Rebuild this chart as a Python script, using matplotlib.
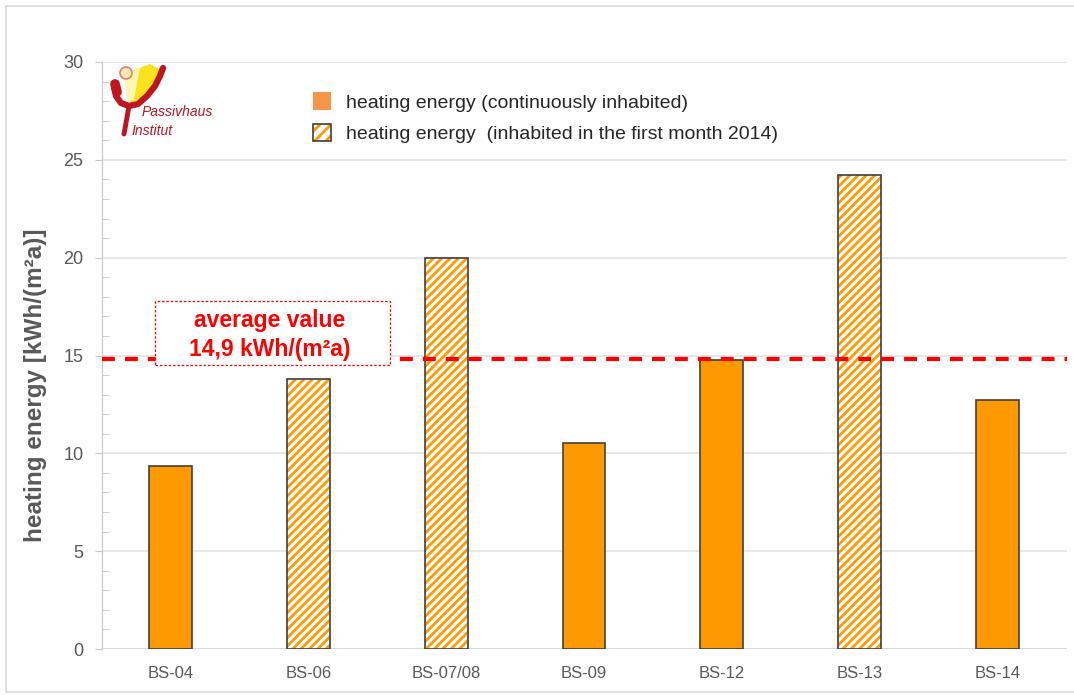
import matplotlib
matplotlib.use("Agg")
from matplotlib import pyplot as plt
from matplotlib.patches import Rectangle, Patch, Circle, Polygon
from matplotlib.legend_handler import HandlerTuple

plt.rcParams['font.family'] = ['Liberation Sans', 'DejaVu Sans']
plt.rcParams['hatch.linewidth'] = 2.0

# data
gebaeude = ["BS-04", "BS-06", "BS-07/08", "BS-09", "BS-12", "BS-13", "BS-14"]
heizenergie = [9.35, 13.8, 20.0, 10.55, 14.75, 24.2, 12.75]
erster_monat = [False, True, True, False, False, True, False]
mittelwert = 14.8
mittelwert_text = "average value\n14,9 kWh/(m²a)"

orange = "#ff9900"
grau_text = "#595959"
rot = "#ff0000"

fig = plt.figure(figsize=(10.74, 6.95), dpi=100)
ax = fig.add_axes([101.5 / 1074, 1 - 649 / 695, 965 / 1074, 587 / 695])

x = list(range(len(gebaeude)))
breite = 0.31
for i, wert in enumerate(heizenergie):
    if erster_monat[i]:
        ax.bar(x[i], wert, breite, color="white", edgecolor=orange, hatch="////", linewidth=0, zorder=3)
        ax.bar(x[i], wert, breite, color="none", edgecolor="#404040", linewidth=1.2, zorder=4)
    else:
        ax.bar(x[i], wert, breite, color=orange, edgecolor="#404040", linewidth=1.2, zorder=3)

# average line + box
ax.axhline(mittelwert, color=rot, linewidth=3, dashes=(3.1, 2.4), zorder=5)
fig.patches.append(Rectangle((155 / 1074, 1 - 365 / 695), 235 / 1074, 64 / 695, transform=fig.transFigure,
                             facecolor="white", edgecolor=rot, linestyle=(0, (2, 1.5)), linewidth=0.9,
                             zorder=6))
fig.text(270 / 1074, 1 - 335 / 695, mittelwert_text, ha="center", va="center", fontsize=16.5,
         fontweight="bold", color=rot, linespacing=1.3, zorder=7)

ax.set_xlim(-0.5, len(gebaeude) - 0.5)
ax.set_ylim(0, 30)
ax.set_yticks(range(0, 31, 5))
ax.set_yticks(range(0, 31, 1), minor=True)
ax.set_xticks(x)
ax.set_xticklabels(gebaeude)
ax.yaxis.grid(True, color="#e3e3e3", linewidth=1.2, zorder=0)
ax.set_axisbelow(True)
for s in ["top", "right", "bottom"]:
    ax.spines[s].set_visible(False)
ax.spines["left"].set_color("#c8c8c8")
ax.tick_params(axis="y", which="major", direction="out", length=5, color="#c8c8c8",
               labelsize=13, labelcolor=grau_text, pad=8)
ax.tick_params(axis="y", which="minor", direction="in", length=5, color="#c8c8c8")
ax.tick_params(axis="x", length=0, labelsize=12, labelcolor=grau_text, pad=12)
ax.axhline(0, color="#d9d9d9", linewidth=1.5, zorder=2)
ax.set_ylabel("heating energy [kWh/(m²a)]", fontsize=17.5, fontweight="bold", color=grau_text)
ax.yaxis.label.set_va("center")
ax.yaxis.set_label_coords((36 - 101.5) / 965, (649 - 385) / 587)

# legend
voll = Patch(facecolor="#f79646", edgecolor="none")
schraffur = Patch(facecolor="white", edgecolor=orange, hatch="///", linewidth=0)
rand = Patch(facecolor="none", edgecolor="#404040", linewidth=1.2)
fig.legend([voll, (schraffur, rand)],
           ["heating energy (continuously inhabited)",
            "heating energy  (inhabited in the first month 2014)"],
           handler_map={tuple: HandlerTuple(ndivide=1)},
           loc="upper left", bbox_to_anchor=(295 / 1074, 1 - 75 / 695),
           frameon=False, fontsize=14, handlelength=0.95, handleheight=1.0,
           handletextpad=0.75, labelspacing=0.62, labelcolor="#262626")

# logo Passivhaus Institut (vereinfacht)
lg = fig.add_axes([106 / 1074, 1 - 146 / 695, 116 / 1074, 86 / 695])
lg.set_xlim(106, 222)
lg.set_ylim(146, 60)
lg.axis("off")
lg.add_patch(Polygon([(124, 74), (150, 64), (161, 70), (152, 92), (131, 104)], closed=True,
                     facecolor="#f8e21a", edgecolor="none"))
lg.add_patch(Polygon([(124, 76), (140, 68), (134, 100), (128, 102)], closed=True,
                     facecolor="#fdf6b0", edgecolor="none"))
lg.add_patch(Circle((126, 73), 6, facecolor="#fde9b8", edgecolor="#e8826c", linewidth=1.2))
lg.plot([114, 116, 121, 129, 138, 147, 155, 160, 163],
        [86, 96, 103, 106, 104, 96, 86, 76, 68], color="#c0141e", linewidth=4.5,
        solid_capstyle="round")
lg.plot([115, 117], [84, 92], color="#c0141e", linewidth=7, solid_capstyle="round")
lg.plot([129, 124], [106, 134], color="#c0141e", linewidth=3.5, solid_capstyle="round")
lg.text(142, 112, "Passivhaus", fontsize=10, style="italic", color="#c0141e", va="center")
lg.text(131, 131, "Institut", fontsize=10, style="italic", color="#c0141e", va="center")

# figure frame
fig.patches.append(Rectangle((6 / 1074, 0.004), 1.0, 1 - 6 / 695 - 0.004, transform=fig.transFigure,
                             fill=False, edgecolor="#d9d9d9", linewidth=1.2))

fig.savefig("out.png", dpi=100)
